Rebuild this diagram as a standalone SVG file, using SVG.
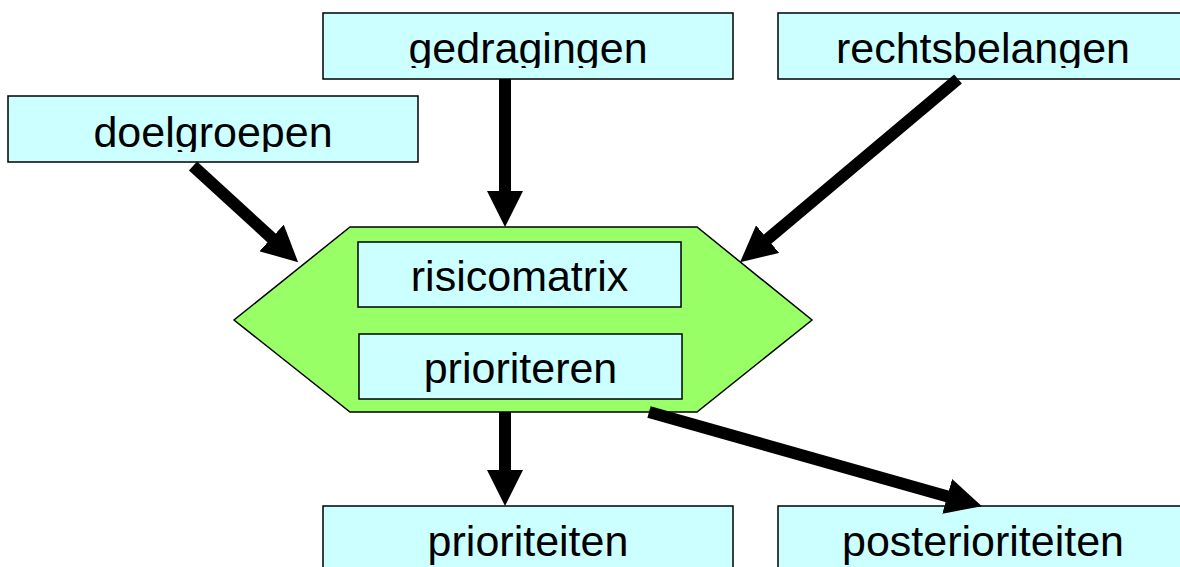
<svg xmlns="http://www.w3.org/2000/svg" width="1180" height="567" viewBox="0 0 1180 567">
<style>
.box{fill:#CCFFFF;stroke:#000;stroke-width:1.5}
.hex{fill:#99FF66;stroke:#000;stroke-width:1.5}
.lbl{font-family:"Liberation Sans",Arial,sans-serif;font-size:43px;fill:#000;text-anchor:middle}
.conn{stroke:#000;stroke-width:12;fill:none;marker-end:url(#ah)}
</style>
<defs>
<marker id="ah" markerUnits="userSpaceOnUse" markerWidth="36" markerHeight="36" viewBox="0 0 36 36" refX="6" refY="18" orient="auto">
<path d="M0,0 L36,18 L0,36 Z" fill="#000"/>
</marker>
<clipPath id="c1"><rect x="0" y="0" width="1180" height="152"/></clipPath>
<clipPath id="c2"><rect x="0" y="0" width="1180" height="68"/></clipPath>
</defs>
<rect width="1180" height="567" fill="#fff"/>
<g id="doelgroepen">
<rect class="box" x="8" y="96" width="410" height="66"/>
<text class="lbl" x="213" y="147" clip-path="url(#c1)">doelgroepen</text>
</g>
<g id="gedragingen">
<rect class="box" x="323" y="13" width="410" height="66"/>
<text class="lbl" x="528" y="63" clip-path="url(#c2)">gedragingen</text>
</g>
<g id="rechtsbelangen">
<rect class="box" x="778" y="13" width="410" height="66"/>
<text class="lbl" x="983" y="63" clip-path="url(#c2)">rechtsbelangen</text>
</g>
<g id="proces">
<polygon class="hex" points="350,227 697,227 812,320 697,412 350,412 234,320"/>
</g>
<g id="risicomatrix">
<rect class="box" x="358" y="242" width="323" height="65"/>
<text class="lbl" x="519.5" y="291">risicomatrix</text>
</g>
<g id="prioriteren">
<rect class="box" x="359" y="334" width="323" height="65"/>
<text class="lbl" x="520.5" y="383">prioriteren</text>
</g>
<g id="prioriteiten">
<rect class="box" x="323" y="506" width="410" height="66"/>
<text class="lbl" x="528" y="556">prioriteiten</text>
</g>
<g id="posterioriteiten">
<rect class="box" x="778" y="506" width="410" height="66"/>
<text class="lbl" x="983" y="556">posterioriteiten</text>
</g>
<g id="connectors">
<line class="conn" x1="193" y1="166" x2="276" y2="242"/>
<line class="conn" x1="505" y1="79" x2="505" y2="197"/>
<line class="conn" x1="958" y1="79" x2="763" y2="243"/>
<line class="conn" x1="505" y1="412" x2="505" y2="476"/>
<line class="conn" x1="649" y1="412" x2="953" y2="498"/>
</g>
</svg>
